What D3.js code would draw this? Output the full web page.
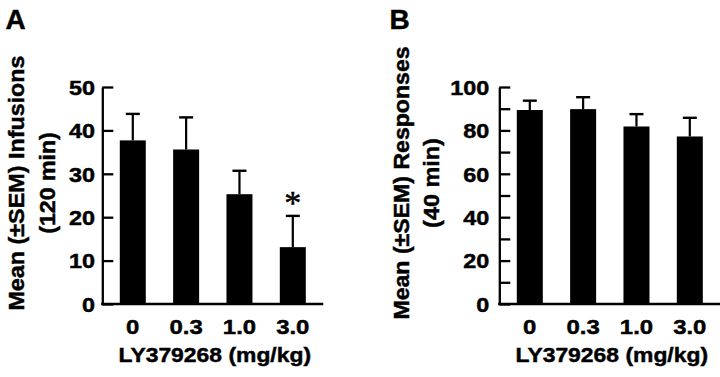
<!DOCTYPE html>
<html><head><meta charset="utf-8">
<script src="https://cdn.jsdelivr.net/npm/d3@7"></script>
<style>
html,body{margin:0;padding:0;background:#fff;}
svg{display:block;}
text{font-family:"Liberation Sans",Arial,Helvetica,sans-serif;font-weight:bold;fill:#000;stroke:#000;stroke-width:0.45px;}
</style></head>
<body>
<svg id="chart" width="720" height="377"></svg>
<script>
// ---- data ----
const doses = ["0", "0.3", "1.0", "3.0"];
const infusionsMean = [37.7, 35.6, 25.3, 13.1];
const infusionsSem  = [6.1, 7.4, 5.4, 7.2];
const responsesMean = [89.4, 89.8, 81.8, 77.2];
const responsesSem  = [4.3, 5.5, 5.7, 8.6];
const infusionsTicks = [0, 10, 20, 30, 40, 50];
const responsesTicks = [0, 10, 20, 30, 40, 50, 60, 70, 80, 90, 100];
const responsesLabels = [0, 20, 40, 60, 80, 100];
const significant = [false, false, false, true];
const xTitle = "LY379268 (mg/kg)";

const svg = d3.select("#chart");

function stretch(sel, k){
  sel.each(function(){
    const w = this.getComputedTextLength();
    d3.select(this).attr("textLength", w * k).attr("lengthAdjust", "spacingAndGlyphs");
  });
}

function panel(opt){
  const g = svg.append("g");
  const y = d3.scaleLinear().domain([0, opt.ymax]).range([304, 87]);
  const x = d3.scaleBand().domain(doses).range([opt.x0, opt.x0 + 221])
    .paddingInner(0.5125).paddingOuter(0.328);

  // bars
  g.selectAll("rect.bar").data(opt.mean).join("rect")
    .attr("class", "bar")
    .attr("x", (d, i) => x(doses[i]))
    .attr("width", x.bandwidth())
    .attr("y", d => y(d))
    .attr("height", d => y(0) - y(d))
    .attr("fill", "#000");

  // error bars (upper only)
  const cw = 14;
  opt.mean.forEach((m, i) => {
    const cx = x(doses[i]) + x.bandwidth() / 2;
    g.append("line").attr("x1", cx).attr("x2", cx)
      .attr("y1", y(m)).attr("y2", y(m + opt.sem[i]))
      .attr("stroke", "#000").attr("stroke-width", 2.2);
    g.append("line").attr("x1", cx - cw / 2).attr("x2", cx + cw / 2)
      .attr("y1", y(m + opt.sem[i])).attr("y2", y(m + opt.sem[i]))
      .attr("stroke", "#000").attr("stroke-width", 2.4);
  });

  // y axis (inward ticks)
  const ya = d3.axisLeft(y).tickValues(opt.ticks).tickSizeInner(-11).tickSizeOuter(0)
    .tickPadding(opt.labelPad)
    .tickFormat(d => opt.labels.includes(d) ? d3.format("d")(d) : "");
  const yg = g.append("g").attr("transform", `translate(${opt.x0},0)`).call(ya);
  yg.select(".domain").attr("stroke", "#000").attr("stroke-width", 2.3);
  yg.selectAll(".tick line").attr("stroke", "#000").attr("stroke-width", 2.3);
  yg.selectAll(".tick text").attr("font-size", 20).attr("font-family", null)
    .attr("dy", "0.36em").attr("fill", "#000");
  stretch(yg.selectAll(".tick text").filter(function(){ return this.textContent !== ""; }), 1.17);

  // x axis line
  g.append("line").attr("x1", opt.x0 - 1.15).attr("x2", opt.x0 + 221)
    .attr("y1", y(0)).attr("y2", y(0))
    .attr("stroke", "#000").attr("stroke-width", 2.3);

  // x tick labels
  const xl = g.selectAll("text.xl").data(doses).join("text")
    .attr("class", "xl")
    .attr("x", d => x(d) + x.bandwidth() / 2)
    .attr("y", 333.5)
    .attr("text-anchor", "middle")
    .attr("font-size", 21)
    .text(d => d);
  stretch(xl, 1.14);

  // x title
  const xc = (x(doses[0]) + x(doses[doses.length - 1]) + x.bandwidth()) / 2 + 2;
  const xt = g.append("text").attr("x", xc).attr("y", 361.5)
    .attr("text-anchor", "middle").attr("font-size", 21).text(xTitle);
  stretch(xt, 1.09);

  // y titles
  opt.yTitle.forEach((t, j) => {
    const tt = g.append("text")
      .attr("transform", `translate(${opt.yTitleX[j]},${183}) rotate(-90)`)
      .attr("text-anchor", "middle").attr("font-size", 21.5).text(t);
    stretch(tt, opt.yTitleK[j]);
  });

  // panel letter
  g.append("text").attr("x", opt.letterX).attr("y", 29.3)
    .attr("font-size", 28).text(opt.letter);

  // significance markers
  opt.mean.forEach((m, i) => {
    if (!opt.sig || !opt.sig[i]) return;
    const cx = x(doses[i]) + x.bandwidth() / 2;
    const fs = 34;
    g.append("text").attr("x", cx)
      .attr("y", y(m + opt.sem[i]) - 17.5 + 0.47 * fs)
      .attr("text-anchor", "middle")
      .style("font-family", "'Liberation Serif','Times New Roman',serif")
      .style("font-weight", "normal").style("stroke-width", "0.5px")
      .attr("font-size", fs).text("*");
  });
}

panel({
  x0: 102.3, ymax: 50, mean: infusionsMean, sem: infusionsSem,
  ticks: infusionsTicks, labels: infusionsTicks, labelPad: 7.3,
  yTitle: ["Mean (\u00B1SEM) Infusions", "(120 min)"],
  yTitleX: [23.5, 54.5], yTitleK: [1.085, 1.077],
  letter: "A", letterX: 5.5, sig: significant
});
panel({
  x0: 499.3, ymax: 100, mean: responsesMean, sem: responsesSem,
  ticks: responsesTicks, labels: responsesLabels, labelPad: 10,
  yTitle: ["Mean (\u00B1SEM) Responses", "(40 min)"],
  yTitleX: [408.5, 439], yTitleK: [1.074, 1.09],
  letter: "B", letterX: 389.5, sig: null
});
</script>
</body></html>
